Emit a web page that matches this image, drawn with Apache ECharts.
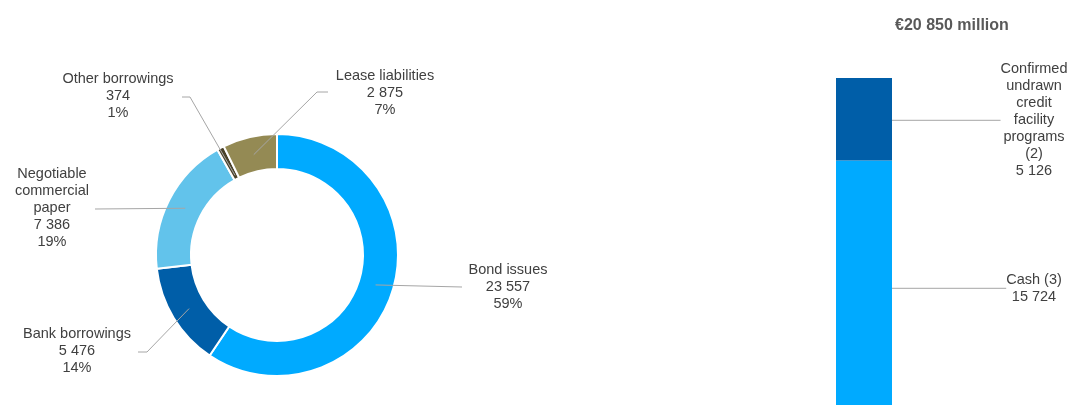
<!DOCTYPE html>
<html>
<head>
<meta charset="utf-8">
<script src="https://cdn.jsdelivr.net/npm/echarts@6/dist/echarts.min.js"></script>
<style>
html,body{margin:0;padding:0;background:#ffffff;}
#chart{width:1068px;height:405px;}
</style>
</head>
<body>
<div id="chart"></div>
<script>
// ---- data ----
const pieNames = ['Bond issues', 'Bank borrowings', 'Negotiable\ncommercial\npaper', 'Other borrowings', 'Lease liabilities'];
const pieValues = [23557, 5476, 7386, 374, 2875];
const barCategory = ['Liquidity'];
const barNames = ['Cash (3)', 'Confirmed\nundrawn\ncredit\nfacility\nprograms\n(2)'];
const barValues = [15724, 5126];
const barTitle = '€20 850 million';

// ---- styling / layout ----
const pieColors = ['#00AAFF', '#005EA8', '#62C3EB', '#4A422A', '#948A54'];
const barColors = ['#00AAFF', '#005EA8'];
const textColor = '#404040';
const lineColor = '#a6a6a6';
const font = "'Liberation Sans', Arial, sans-serif";
const pieCenter = [277, 255];
const pieRadius = [86, 121];
// label block centres and leader elbows for the pie labels
const pieLabelPos = [[508, 287], [77, 351], [52, 208], [118, 96], [385, 93]];
const pieLeaderStart = [[[462, 287]], [[138, 352], [147, 352]], [[95, 209]], [[182, 97], [190, 97]], [[328, 92], [317, 92]]];
const pieAnchorRadius = [103, 103, 103, 90, 103];
const barLabelX = 1034;
const barLeaderEnd = [1003, 992];

function fmt(v) { return String(v).replace(/\B(?=(\d{3})+(?!\d))/g, ' '); }

const total = pieValues.reduce((a, b) => a + b, 0);
function anchorOf(i) {
  let cum = 0;
  for (let k = 0; k < i; k++) cum += pieValues[k];
  const mid = (cum + pieValues[i] / 2) / total * 2 * Math.PI;
  const r = pieAnchorRadius[i];
  return [pieCenter[0] + r * Math.sin(mid), pieCenter[1] - r * Math.cos(mid)];
}

const chart = echarts.init(document.getElementById('chart'), null, {renderer: 'canvas'});

const pieBase = {
  type: 'pie',
  center: pieCenter,
  radius: pieRadius,
  startAngle: 90,
  clockwise: true,
  avoidLabelOverlap: false,
  percentPrecision: 0,
  emphasis: {disabled: true},
  silent: true
};

const option = {
  animation: false,
  backgroundColor: '#ffffff',
  textStyle: {fontFamily: font},
  title: {
    text: barTitle,
    left: 890,
    top: 13,
    textStyle: {fontFamily: font, fontSize: 16, fontWeight: 'bold', color: '#595959'}
  },
  grid: {left: 836, width: 56, top: 78, height: 336, outerBoundsMode: 'none'},
  xAxis: {type: 'category', data: barCategory, show: false},
  yAxis: {type: 'value', min: 0, max: barValues[0] + barValues[1], show: false, splitLine: {show: false}},
  series: [
    Object.assign({}, pieBase, {
      z: 1,
      itemStyle: {borderColor: '#ffffff', borderWidth: 2},
      label: {show: false},
      labelLine: {show: false},
      data: pieNames.map((n, i) => ({name: n, value: pieValues[i], itemStyle: {color: pieColors[i]}}))
    }),
    Object.assign({}, pieBase, {
      z: 3,
      itemStyle: {color: 'rgba(0,0,0,0)', borderWidth: 0},
      label: {
        show: true,
        position: 'outside',
        color: textColor,
        fontFamily: font,
        fontSize: 14.5,
        lineHeight: 17,
        align: 'center',
        formatter: p => p.name + '\n' + fmt(p.value) + '\n' + p.percent + '%'
      },
      labelLine: {show: true, showAbove: true, lineStyle: {color: lineColor, width: 1}},
      labelLayout: function (params) {
        const i = params.dataIndex;
        const pts = pieLeaderStart[i].slice();
        pts.push(anchorOf(i));
        return {
          x: pieLabelPos[i][0],
          y: pieLabelPos[i][1],
          align: 'center',
          verticalAlign: 'middle',
          labelLinePoints: pts
        };
      },
      data: pieNames.map((n, i) => ({name: n, value: pieValues[i]}))
    }),
    ...barNames.map((n, i) => ({
      type: 'bar',
      name: n,
      stack: 'liq',
      barWidth: 56,
      data: [barValues[i]],
      itemStyle: {color: barColors[i]},
      label: {
        show: true,
        position: 'right',
        color: textColor,
        fontFamily: font,
        fontSize: 14.5,
        lineHeight: 17,
        align: 'center',
        formatter: p => p.seriesName + '\n' + fmt(p.value)
      },
      labelLine: {show: true, lineStyle: {color: lineColor, width: 1}},
      labelLayout: function (params) {
        const r = params.rect;
        const my = r.y + r.height / 2;
        return {
          x: barLabelX,
          y: my + 1,
          align: 'center',
          verticalAlign: 'middle',
          labelLinePoints: [[r.x + r.width, my], [barLeaderEnd[i], my]]
        };
      },
      emphasis: {disabled: true}
    }))
  ]
};
chart.setOption(option);
</script>
</body>
</html>
